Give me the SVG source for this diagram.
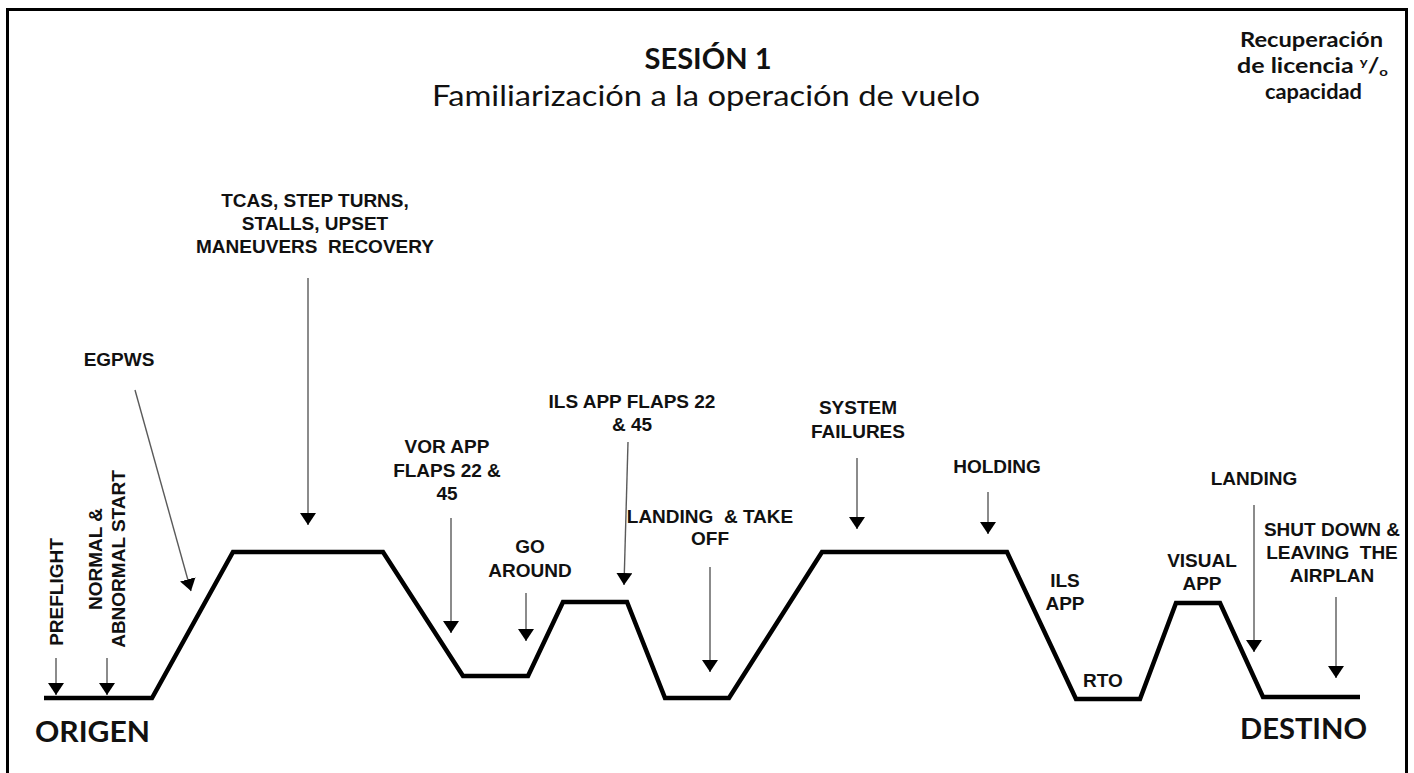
<svg xmlns="http://www.w3.org/2000/svg" width="1414" height="773" viewBox="0 0 1414 773">
  <defs>
    <marker id="ah" viewBox="0 0 12 16" refX="12" refY="8" markerWidth="12" markerHeight="16" markerUnits="userSpaceOnUse" orient="auto">
      <path d="M0,0 L12,8 L0,16 Z" fill="#000"/>
    </marker>
    <style>
      .lbl { font-family: "Liberation Sans", Arial, sans-serif; font-weight: bold; font-size: 19px; fill: #111; text-anchor: middle; }
      .cal { font-family: Lato, "Open Sans", sans-serif; fill: #111; }
      .arr { stroke: #5a5a5a; stroke-width: 1.4; fill: none; marker-end: url(#ah); }
      .prof { stroke: #000; stroke-width: 4.5; fill: none; stroke-linejoin: miter; }
    </style>
  </defs>

  <rect width="1414" height="773" fill="#fff"/>
  <rect x="7.5" y="9.5" width="1399" height="820" fill="none" stroke="#000" stroke-width="3"/>

  <g id="title">
    <text class="cal" x="708" y="69" font-size="28" font-weight="bold" text-anchor="middle" textLength="127" lengthAdjust="spacingAndGlyphs">SESIÓN 1</text>
    <text class="cal" x="706" y="106" font-size="28" text-anchor="middle" textLength="548" lengthAdjust="spacingAndGlyphs">Familiarización a la operación de vuelo</text>
  </g>

  <g id="recuperacion">
    <text class="cal" x="1311.5" y="47" font-size="20" font-weight="bold" text-anchor="middle" textLength="143" lengthAdjust="spacingAndGlyphs">Recuperación</text>
    <text class="cal" x="1312.5" y="73" font-size="20" font-weight="bold" text-anchor="middle" textLength="151" lengthAdjust="spacingAndGlyphs">de licencia <tspan font-size="12" dy="-7">y</tspan><tspan dy="7">/</tspan><tspan font-size="12" dy="3">o</tspan></text>
    <text class="cal" x="1313.5" y="99" font-size="20" font-weight="bold" text-anchor="middle" textLength="97" lengthAdjust="spacingAndGlyphs">capacidad</text>
  </g>

  <g id="profile">
    <polyline class="prof" points="44,698 152,698 233,552 383,552 463,676 528,676 563,602 627,602 665,698 729,698 822,552 1007,552 1076,699 1140,699 1176,603 1220,603 1263,697 1360,697"/>
  </g>

  <g id="connectors">
    <line class="arr" x1="56" y1="658" x2="56" y2="695"/>
    <line class="arr" x1="107" y1="658" x2="107" y2="695"/>
    <line class="arr" x1="135" y1="390" x2="191" y2="591"/>
    <line class="arr" x1="308" y1="278" x2="308" y2="525"/>
    <line class="arr" x1="451" y1="518" x2="451" y2="633"/>
    <line class="arr" x1="526" y1="593" x2="526" y2="641"/>
    <line class="arr" x1="628" y1="442" x2="624" y2="585"/>
    <line class="arr" x1="710" y1="567" x2="710" y2="672"/>
    <line class="arr" x1="857" y1="458" x2="857" y2="529"/>
    <line class="arr" x1="988" y1="492" x2="988" y2="534"/>
    <line class="arr" x1="1254" y1="505" x2="1254" y2="652"/>
    <line class="arr" x1="1336" y1="597" x2="1336" y2="678"/>
  </g>

  <g id="preflight">
    <text class="lbl" transform="translate(63,592) rotate(-90)">PREFLIGHT</text>
  </g>
  <g id="normal-start">
    <text class="lbl" transform="translate(102,559) rotate(-90)">NORMAL &amp;</text>
    <text class="lbl" transform="translate(125,559) rotate(-90)">ABNORMAL START</text>
  </g>
  <g id="egpws">
    <text class="lbl" x="119" y="366">EGPWS</text>
  </g>
  <g id="tcas">
    <text class="lbl" x="315" y="207">TCAS, STEP TURNS,</text>
    <text class="lbl" x="315" y="230">STALLS, UPSET</text>
    <text class="lbl" x="315" y="253" xml:space="preserve">MANEUVERS  RECOVERY</text>
  </g>
  <g id="vor-app">
    <text class="lbl" x="447" y="453">VOR APP</text>
    <text class="lbl" x="447" y="477">FLAPS 22 &amp;</text>
    <text class="lbl" x="447" y="500">45</text>
  </g>
  <g id="go-around">
    <text class="lbl" x="530" y="553">GO</text>
    <text class="lbl" x="530" y="577">AROUND</text>
  </g>
  <g id="ils-flaps">
    <text class="lbl" x="632" y="408">ILS APP FLAPS 22</text>
    <text class="lbl" x="632" y="431">&amp; 45</text>
  </g>
  <g id="landing-takeoff">
    <text class="lbl" x="710" y="523" xml:space="preserve">LANDING  &amp; TAKE</text>
    <text class="lbl" x="710" y="545">OFF</text>
  </g>
  <g id="system-failures">
    <text class="lbl" x="858" y="414">SYSTEM</text>
    <text class="lbl" x="858" y="438">FAILURES</text>
  </g>
  <g id="holding">
    <text class="lbl" x="997" y="473">HOLDING</text>
  </g>
  <g id="ils-app">
    <text class="lbl" x="1065" y="587">ILS</text>
    <text class="lbl" x="1065" y="610">APP</text>
  </g>
  <g id="rto">
    <text class="lbl" x="1103" y="687">RTO</text>
  </g>
  <g id="visual-app">
    <text class="lbl" x="1202" y="567">VISUAL</text>
    <text class="lbl" x="1202" y="590">APP</text>
  </g>
  <g id="landing">
    <text class="lbl" x="1254" y="485">LANDING</text>
  </g>
  <g id="shutdown">
    <text class="lbl" x="1332" y="536">SHUT DOWN &amp;</text>
    <text class="lbl" x="1332" y="559" xml:space="preserve">LEAVING  THE</text>
    <text class="lbl" x="1332" y="582">AIRPLAN</text>
  </g>

  <g id="origen">
    <text class="cal" x="35" y="742" font-size="29" font-weight="bold" textLength="115" lengthAdjust="spacingAndGlyphs">ORIGEN</text>
  </g>
  <g id="destino">
    <text class="cal" x="1240" y="739" font-size="29" font-weight="bold" textLength="127" lengthAdjust="spacingAndGlyphs">DESTINO</text>
  </g>
</svg>
